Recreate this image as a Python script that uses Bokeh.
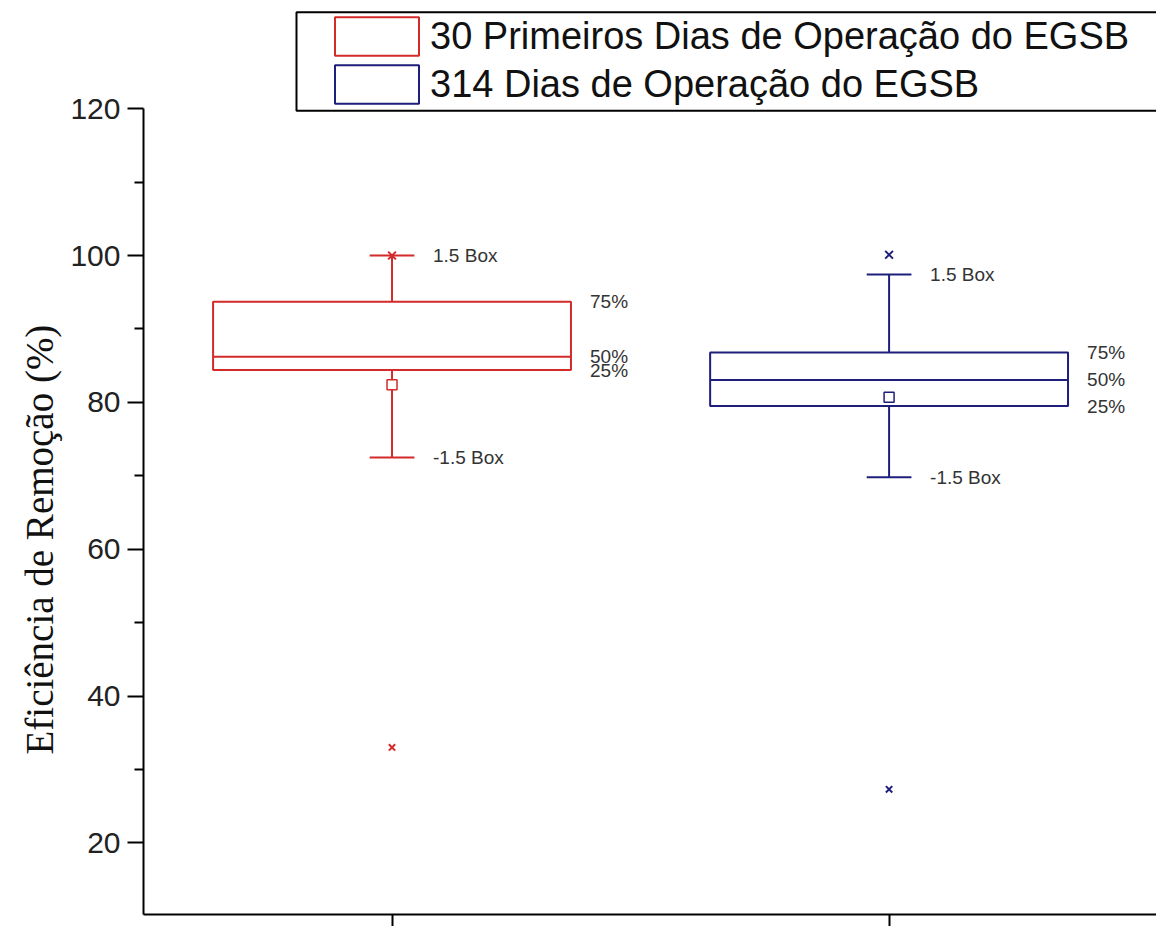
from bokeh.plotting import figure
from bokeh.models import Range1d, FixedTicker, Legend, LegendItem, ColumnDataSource, Title
from bokeh.core.properties import value
from bokeh.embed import file_html
from bokeh.resources import INLINE

# ---- data ----
groups = ["30 Primeiros Dias de Operação do EGSB", "314 Dias de Operação do EGSB"]
xpos = [1, 2]
q1 = [84.4, 79.5]
median = [86.2, 83.05]
q3 = [93.7, 86.8]
mean = [82.4, 80.7]
whisker_low = [72.5, 69.8]
whisker_high = [100.0, 97.4]
data_max = [100.0, 100.1]
data_min = [33.0, 27.3]
colors = ["#d42a2a", "#1e1e7c"]

y_ticks = [20, 40, 60, 80, 100, 120]
y_minor = [30, 50, 70, 90, 110]
x_ticks = [1, 2]
y_label = "Eficiência de Remoção (%)"

# ---- layout constants ----
BOX_W = 0.72
CAP_W = 0.09
Y0, Y1 = 10.25, 134.73
X0, X1 = 0.5, 2.538
LEG_L, LEG_R, LEG_T, LEG_B = 0.8078, 3.0, 133.12, 119.73
FONT = "Liberation Sans"

p = figure(frame_width=1013, frame_height=914, title=None,
           x_range=Range1d(X0, X1), y_range=Range1d(Y0, Y1),
           output_backend="svg", toolbar_location=None,
           min_border_left=143, min_border_right=0, min_border_top=0, min_border_bottom=0)
p.outline_line_color = None
p.grid.visible = False
p.background_fill_color = "white"

# y axis
ya = p.yaxis[0]
ya.ticker = FixedTicker(ticks=y_ticks, minor_ticks=y_minor)
ya.bounds = (Y0, 120)
ya.axis_line_width = 2
ya.major_tick_line_width = 2
ya.minor_tick_line_width = 2
ya.major_tick_out = 16
ya.major_tick_in = 0
ya.minor_tick_out = 9
ya.minor_tick_in = 0
ya.major_label_standoff = 7
ya.major_label_text_font = FONT
ya.major_label_text_font_size = "30px"
ya.major_label_text_color = "#222222"

# y-axis label as a side title (lets it sit where the reference has it)
ylab = Title(text=y_label, align="left", offset=160, vertical_align="bottom", standoff=14,
             text_font="Liberation Serif", text_font_size="39px", text_font_style="normal",
             text_color="#111111")
p.add_layout(ylab, "left")

# x axis
xa = p.xaxis[0]
xa.ticker = FixedTicker(ticks=x_ticks, minor_ticks=[])
xa.axis_line_width = 2
xa.major_tick_line_width = 2
xa.major_tick_out = 12
xa.major_tick_in = 0
xa.minor_tick_line_color = None
xa.major_label_text_color = None
xa.major_label_text_font_size = "0px"
xa.major_label_standoff = 0

# legend frame (behind legend)
p.quad(left=[LEG_L], right=[LEG_R], top=[LEG_T], bottom=[LEG_B],
       fill_color="white", line_color="black", line_width=2)

src = ColumnDataSource(dict(
    x=xpos, q1=q1, q3=q3, med=median, mean=mean, lo=whisker_low, hi=whisker_high,
    mx=data_max, mn=data_min, color=colors,
    left=[x - BOX_W / 2 for x in xpos], right=[x + BOX_W / 2 for x in xpos],
    cl=[x - CAP_W / 2 for x in xpos], cr=[x + CAP_W / 2 for x in xpos],
))

# whiskers
p.segment(x0="x", y0="q3", x1="x", y1="hi", source=src, line_color="color", line_width=2)
p.segment(x0="x", y0="q1", x1="x", y1="lo", source=src, line_color="color", line_width=2)
p.segment(x0="cl", y0="hi", x1="cr", y1="hi", source=src, line_color="color", line_width=2)
p.segment(x0="cl", y0="lo", x1="cr", y1="lo", source=src, line_color="color", line_width=2)

# boxes
boxes = p.quad(left="left", right="right", top="q3", bottom="q1", source=src,
               fill_color="white", fill_alpha=0, line_color="color", line_width=2)
p.segment(x0="left", y0="med", x1="right", y1="med", source=src, line_color="color", line_width=2)

# mean
p.scatter(x="x", y="mean", source=src, marker="square", size=10,
          fill_color="white", line_color="color", line_width=1.5)
# max / min
p.scatter(x="x", y="mx", source=src, marker="x", size=11, line_color="color", line_width=2)
p.scatter(x="x", y="mn", source=src, marker="x", size=9, line_color="color", line_width=2)

# annotations
lab_kw = dict(text_font=value(FONT), text_font_size="19px", text_color="#333333",
              text_baseline="middle", text_align="left")
p.text(x="x", y="hi", text=value("1.5 Box"), source=src, x_offset=41, **lab_kw)
p.text(x="x", y="lo", text=value("-1.5 Box"), source=src, x_offset=41, **lab_kw)
p.text(x="x", y="q3", text=value("75%"), source=src, x_offset=198, **lab_kw)
p.text(x="x", y="med", text=value("50%"), source=src, x_offset=198, **lab_kw)
p.text(x="x", y="q1", text=value("25%"), source=src, x_offset=198, **lab_kw)

legend = Legend(items=[LegendItem(label=groups[i], renderers=[boxes], index=i) for i in range(2)],
                location=(181, 806))
legend.glyph_width = 105
legend.glyph_height = 48
legend.spacing = 0
legend.padding = 5
legend.margin = 0
legend.label_standoff = 1
legend.label_text_font = FONT
legend.label_text_font_size = "38px"
legend.label_text_color = "#111111"
legend.border_line_color = None
legend.background_fill_alpha = 0
p.add_layout(legend)

open("out.html", "w").write(file_html(p, INLINE))
